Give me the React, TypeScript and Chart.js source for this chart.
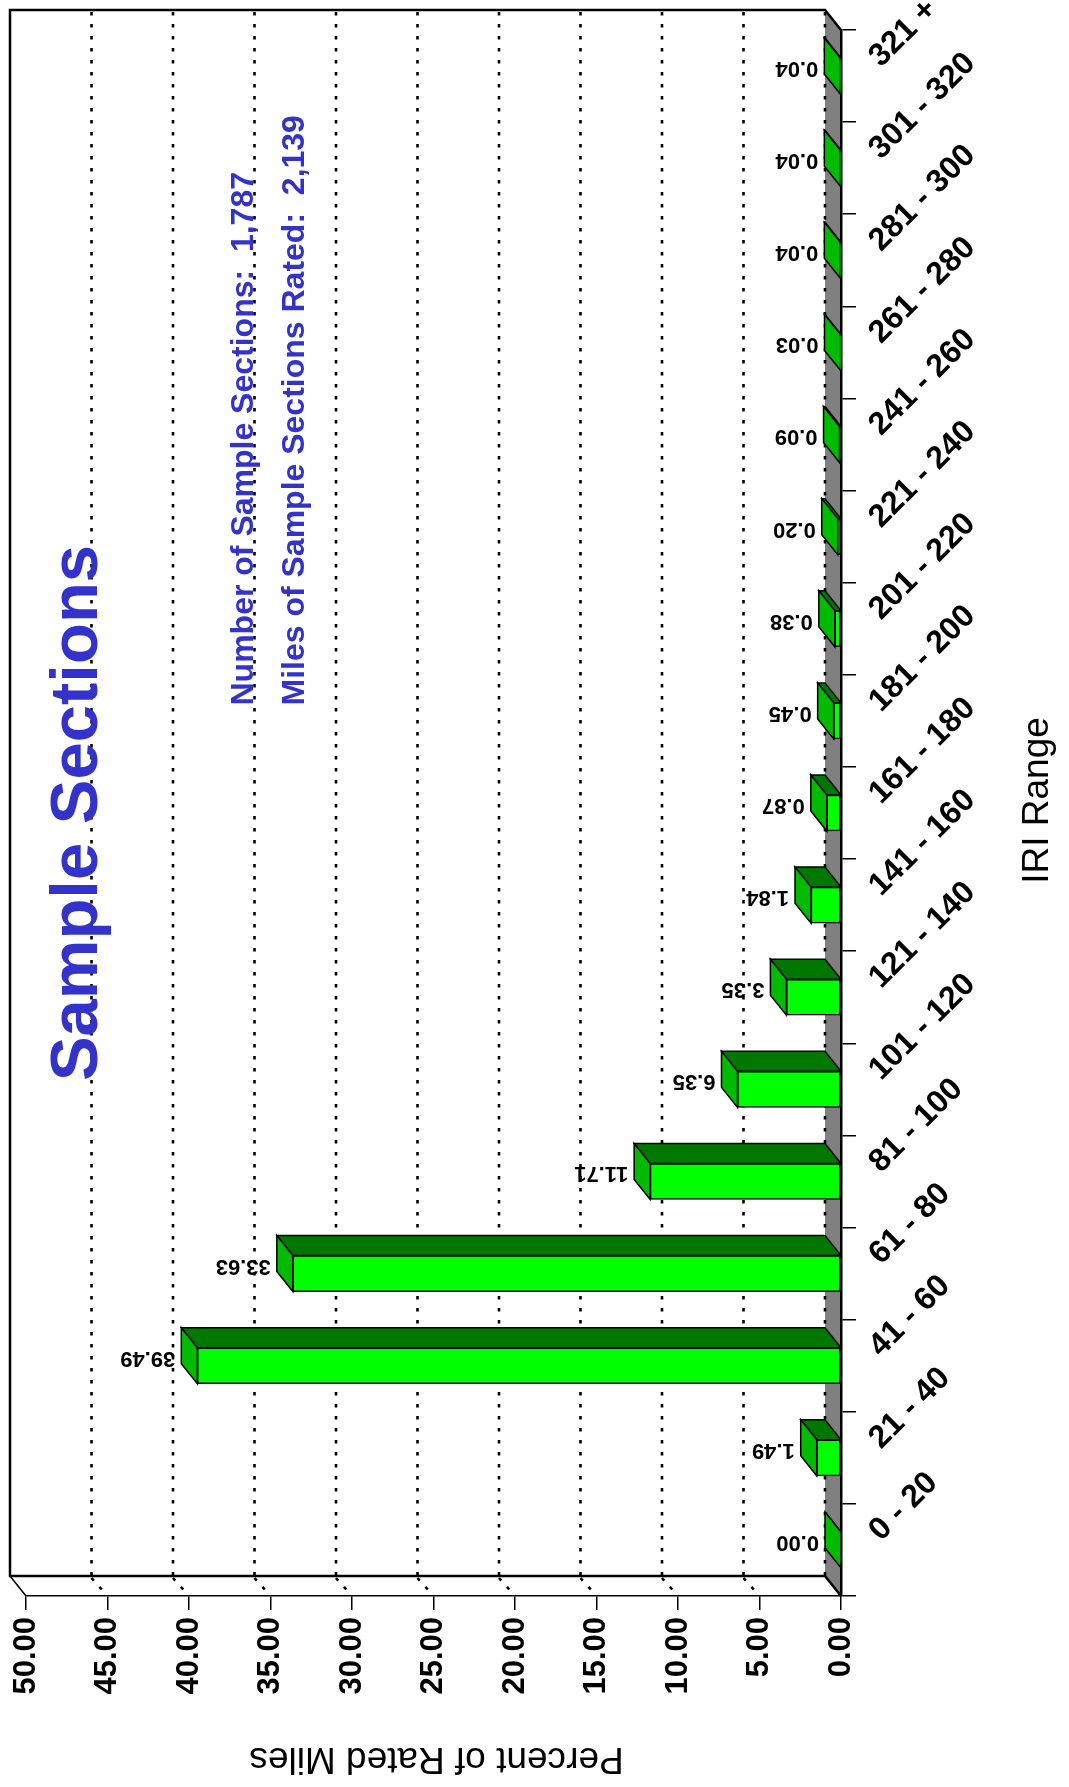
import { useEffect, useRef } from 'react';
import { Chart, registerables } from 'chart.js';

Chart.register(...registerables);

// ---- data ----
const iriRanges = [
  '0 - 20', '21 - 40', '41 - 60', '61 - 80', '81 - 100', '101 - 120',
  '121 - 140', '141 - 160', '161 - 180', '181 - 200', '201 - 220',
  '221 - 240', '241 - 260', '261 - 280', '281 - 300', '301 - 320', '321 +',
];
const percentOfRatedMiles = [
  0.0, 1.49, 39.49, 33.63, 11.71, 6.35, 3.35, 1.84, 0.87, 0.45, 0.38,
  0.2, 0.09, 0.03, 0.04, 0.04, 0.04,
];
const percentTicks = [0, 5, 10, 15, 20, 25, 30, 35, 40, 45, 50];
const titleText = 'Sample Sections';
const summaryLines = [
  'Number of Sample Sections:  1,787',
  'Miles of Sample Sections Rated:  2,139',
];
const valueAxisTitle = 'Percent of Rated Miles';
const categoryAxisTitle = 'IRI Range';

// ---- look ----
const FONT = '"Liberation Sans", Arial, Helvetica, sans-serif';
const BLUE = '#3333cc';
const DX = -16; // depth offset of the back plane
const DY = -20;
const FRONT_GREEN = '#00ff00';
const TOP_GREEN = '#007800';
const END_GREEN = '#00bb00';
const FLOOR_GRAY = '#808080';

const W = 1069;
const H = 1787;

const depthPlugin = {
  id: 'depth3d',
  beforeDraw(chart: any) {
    const { ctx, chartArea: a, scales } = chart;
    const xs = scales.x;
    const fl = xs.getPixelForValue(50);
    const fr = xs.getPixelForValue(0);
    const bl = fl + DX;
    const br = fr + DX;
    const bt = a.top + DY;
    const bb = a.bottom + DY;
    ctx.save();
    ctx.fillStyle = '#ffffff';
    ctx.fillRect(0, 0, chart.width, chart.height);

    // floor strip under the bars
    ctx.fillStyle = FLOOR_GRAY;
    ctx.beginPath();
    ctx.moveTo(br, bt);
    ctx.lineTo(fr, a.top);
    ctx.lineTo(fr, a.bottom);
    ctx.lineTo(br, bb);
    ctx.closePath();
    ctx.fill();

    // dotted grid on the back wall and across the side wall
    ctx.strokeStyle = '#000';
    ctx.lineWidth = 2.6;
    ctx.lineCap = 'butt';
    ctx.setLineDash([3.4, 8.6]);
    percentTicks.forEach((v) => {
      if (v === 50) return;
      const fx = xs.getPixelForValue(v);
      const bx = fx + DX;
      ctx.beginPath();
      ctx.moveTo(bx, bt + 2);
      ctx.lineTo(bx, bb);
      ctx.stroke();
      if (v !== 0) {
        ctx.beginPath();
        ctx.moveTo(bx, bb + 2);
        ctx.lineTo(fx, a.bottom);
        ctx.stroke();
      }
    });
    ctx.setLineDash([]);

    // back frame
    ctx.lineWidth = 2.5;
    ctx.lineJoin = 'miter';
    ctx.beginPath();
    ctx.moveTo(fr, a.top);
    ctx.lineTo(br, bt);
    ctx.lineTo(bl, bt);
    ctx.lineTo(bl, bb);
    ctx.lineTo(br, bb);
    ctx.lineTo(fr, a.bottom);
    ctx.stroke();
    ctx.lineWidth = 1.5;
    ctx.beginPath();
    ctx.moveTo(bl, bb);
    ctx.lineTo(fl, a.bottom);
    ctx.stroke();
    ctx.restore();
  },
  beforeDatasetsDraw(chart: any) {
    const { ctx, scales } = chart;
    const xs = scales.x;
    const meta = chart.getDatasetMeta(0);
    ctx.save();
    ctx.strokeStyle = '#000';
    ctx.lineWidth = 1.5;
    ctx.lineJoin = 'miter';
    meta.data.forEach((bar: any) => {
      const p = bar.getProps(['x', 'y', 'base', 'height'], true);
      const fx = p.x;
      const fb = xs.getPixelForValue(0);
      const yt = p.y - p.height / 2;
      const yb = p.y + p.height / 2;
      // top face
      ctx.fillStyle = TOP_GREEN;
      ctx.beginPath();
      ctx.moveTo(fx, yt);
      ctx.lineTo(fb, yt);
      ctx.lineTo(fb + DX, yt + DY);
      ctx.lineTo(fx + DX, yt + DY);
      ctx.closePath();
      ctx.fill();
      ctx.stroke();
      // end face
      ctx.fillStyle = END_GREEN;
      ctx.beginPath();
      ctx.moveTo(fx, yt);
      ctx.lineTo(fx, yb);
      ctx.lineTo(fx + DX, yb + DY);
      ctx.lineTo(fx + DX, yt + DY);
      ctx.closePath();
      ctx.fill();
      ctx.stroke();
    });
    ctx.restore();
  },
  afterDatasetsDraw(chart: any) {
    const { ctx } = chart;
    const meta = chart.getDatasetMeta(0);
    ctx.save();
    ctx.fillStyle = '#000';
    ctx.font = `bold 22px ${FONT}`;
    ctx.textAlign = 'left';
    ctx.textBaseline = 'middle';
    meta.data.forEach((bar: any, i: number) => {
      const p = bar.getProps(['x', 'y'], true);
      ctx.save();
      ctx.translate(p.x + DX - 6, p.y - 8);
      ctx.rotate(Math.PI);
      ctx.fillText(percentOfRatedMiles[i].toFixed(2), 0, 0);
      ctx.restore();
    });
    ctx.restore();
  },
  afterDraw(chart: any) {
    const { ctx, scales } = chart;
    const ys = scales.y;
    ctx.save();
    // category labels, slanted
    ctx.fillStyle = '#000';
    ctx.font = `bold 32px ${FONT}`;
    ctx.textAlign = 'left';
    ctx.textBaseline = 'alphabetic';
    iriRanges.forEach((lab, i) => {
      const cy = ys.getPixelForValue(i);
      ctx.save();
      ctx.translate(881, cy - 8);
      ctx.rotate(-Math.PI / 4);
      ctx.fillText(lab, 0, 0);
      ctx.restore();
    });

    // axis titles
    ctx.font = `37px ${FONT}`;
    ctx.textAlign = 'center';
    ctx.save();
    ctx.translate(436.5, 1761);
    ctx.rotate(Math.PI);
    ctx.fillText(valueAxisTitle, 0, 13.2);
    ctx.restore();

    ctx.save();
    ctx.translate(1048, 800.5);
    ctx.rotate(-Math.PI / 2);
    ctx.fillText(categoryAxisTitle, 0, 0);
    ctx.restore();

    // headline and summary
    ctx.fillStyle = BLUE;
    ctx.font = `bold 67px ${FONT}`;
    ctx.save();
    ctx.translate(97, 813);
    ctx.rotate(-Math.PI / 2);
    ctx.fillText(titleText, 0, 0);
    ctx.restore();

    ctx.font = `bold 32px ${FONT}`;
    ctx.textAlign = 'left';
    const baselines = [253, 303.5];
    summaryLines.forEach((line, i) => {
      ctx.save();
      ctx.translate(baselines[i], 705.5);
      ctx.rotate(-Math.PI / 2);
      ctx.fillText(line, 0, 0);
      ctx.restore();
    });
    ctx.restore();
  },
};

export default function App() {
  const canvasRef = useRef<HTMLCanvasElement | null>(null);

  useEffect(() => {
    const canvas = canvasRef.current;
    if (!canvas) return;
    Chart.defaults.font.family = FONT;
    const chart = new Chart(canvas, {
      type: 'bar',
      data: {
        labels: iriRanges,
        datasets: [
          {
            data: percentOfRatedMiles,
            backgroundColor: FRONT_GREEN,
            borderColor: '#000',
            borderWidth: 1.5,
            borderSkipped: false,
            barThickness: 36,
          },
        ],
      },
      options: {
        indexAxis: 'y',
        animation: false,
        responsive: false,
        devicePixelRatio: 1,
        layout: { padding: { left: 26, top: 30, right: 0, bottom: 0 } },
        plugins: {
          legend: { display: false },
          tooltip: { enabled: false },
        },
        scales: {
          x: {
            type: 'linear',
            position: 'bottom',
            reverse: true,
            min: 0,
            max: 50,
            afterBuildTicks: (scale: any) => {
              scale.ticks = percentTicks.map((v) => ({ value: v }));
            },
            afterFit: (scale: any) => {
              scale.height = H - 1596;
            },
            ticks: {
              autoSkip: false,
              minRotation: 90,
              maxRotation: 90,
              padding: 7,
              color: '#000',
              font: { family: FONT, size: 31, weight: 'bold' },
              callback: (v: any) => Number(v).toFixed(2),
            },
            grid: {
              drawOnChartArea: false,
              drawTicks: true,
              tickLength: 14,
              color: '#000',
              lineWidth: 1.5,
            },
            border: { display: true, color: '#000', width: 1.5 },
          },
          y: {
            type: 'category',
            position: 'right',
            reverse: true,
            offset: true,
            afterFit: (scale: any) => {
              scale.width = W - 841;
            },
            ticks: { display: false },
            grid: {
              drawOnChartArea: false,
              drawTicks: true,
              tickLength: 15,
              offset: true,
              color: '#000',
              lineWidth: 1.5,
            },
            border: { display: true, color: '#000', width: 2.5 },
          },
        },
      } as any,
      plugins: [depthPlugin],
    });
    return () => chart.destroy();
  }, []);

  return (
    <div style={{ position: 'absolute', left: 0, top: 0, width: W, height: H }}>
      <canvas ref={canvasRef} width={W} height={H} style={{ display: 'block', width: W, height: H }} />
    </div>
  );
}
